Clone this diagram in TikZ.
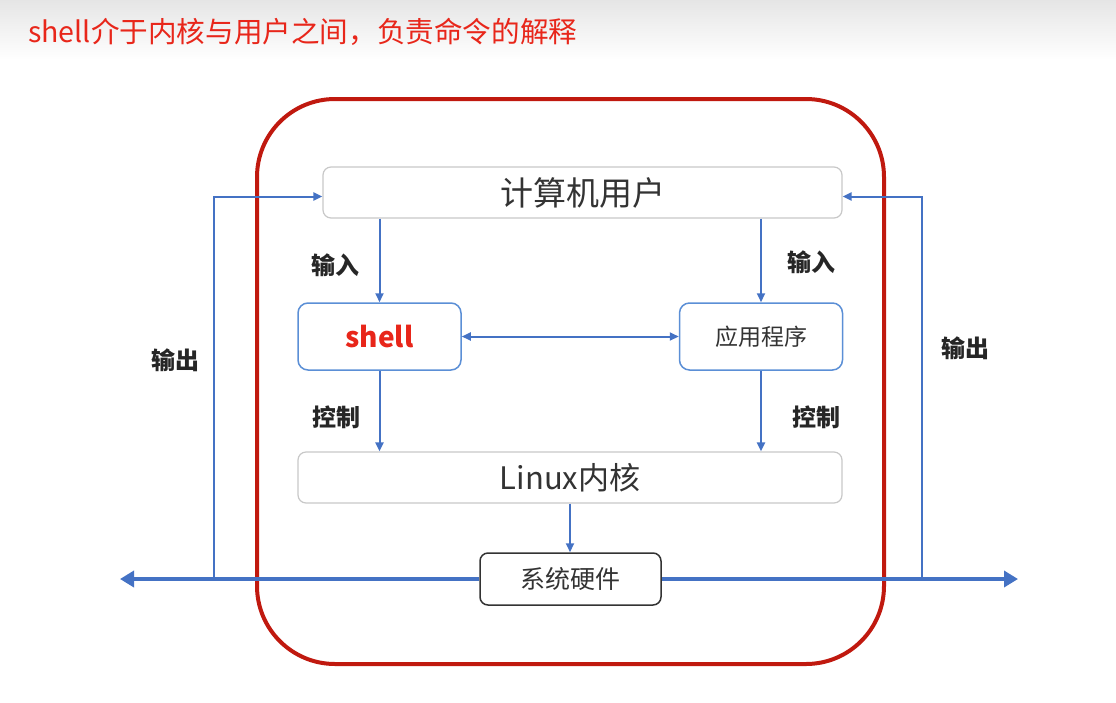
\documentclass[tikz,border=0pt]{standalone}
\usepackage{fontspec}
\newfontfamily\cjk{Noto Sans CJK SC}
\usetikzlibrary{arrows.meta}
\definecolor{lineblue}{HTML}{4472C4}
\definecolor{boxblue}{HTML}{5B8FD6}
\definecolor{framered}{HTML}{C0190F}
\definecolor{titlered}{HTML}{E8261A}
\definecolor{boxgray}{HTML}{C8C8C8}
\definecolor{textgray}{HTML}{333333}
\tikzstyle{every node}=[font=\cjk,text=textgray,inner sep=0pt]
\tikzstyle{widebox}=[draw=boxgray,line width=1.2pt,rounded corners=8pt,fill=white]
\tikzstyle{smallbox}=[draw=boxblue,line width=1.5pt,rounded corners=10pt,fill=white,minimum width=163pt,minimum height=67pt]
\tikzstyle{hwbox}=[draw=textgray,line width=1.5pt,rounded corners=8pt,fill=white,minimum width=181pt,minimum height=52pt,font=\cjk\fontsize{25}{25}\selectfont]
\tikzstyle{flow}=[draw=lineblue,line width=2pt,-{Triangle[length=9pt,width=8pt]}]
\tikzstyle{bus}=[draw=lineblue,line width=4pt,-{Triangle[length=14pt,width=16pt]}]
\tikzstyle{label}=[font=\cjk\bfseries\fontsize{24}{24}\selectfont,text=black!85]

\begin{document}
\begin{tikzpicture}[x=1pt,y=-1pt]
    \useasboundingbox (0,0) rectangle (1116,702);
    \shade[top color=black!10,bottom color=white] (0,0) rectangle (1116,60);
    \node[font=\cjk\fontsize{28.6}{28.6}\selectfont,text=titlered,anchor=west] (title) at (28,32) {shell介于内核与用户之间，负责命令的解释};
    \draw[framered,line width=4pt,rounded corners=78pt] (257,99) rectangle (884,664);
    \node[widebox,minimum width=519pt,minimum height=51pt,font=\cjk\fontsize{33}{33}\selectfont] (user) at (582.5,192.5) {计算机用户};
    \node[smallbox,font=\cjk\bfseries\fontsize{28}{28}\selectfont,text=titlered] (shell) at (379.5,336.5) {shell};
    \node[smallbox,font=\cjk\fontsize{23}{23}\selectfont] (app) at (761,336.5) {应用程序};
    \node[widebox,minimum width=544pt,minimum height=51pt,font=\cjk\fontsize{31}{31}\selectfont] (linux) at (570,477.5) {Linux内核};
    \node[hwbox] (hw) at (570.5,579) {系统硬件};
    \coordinate (busl) at (120,579);
    \coordinate (busr) at (1018,579);
    \coordinate (outl) at (214,579);
    \coordinate (outr) at (922,579);
    \draw[bus] (hw.west) -- (busl);
    \draw[bus] (hw.east) -- (busr);
    \draw[flow] (outl) |- ([yshift=-4pt]user.west);
    \draw[flow] (outr) |- ([yshift=-4pt]user.east);
    \draw[flow] (shell.north |- user.south) -- (shell.north);
    \draw[flow] (app.north |- user.south) -- (app.north);
    \draw[flow,{Triangle[length=9pt,width=8pt]}-{Triangle[length=9pt,width=8pt]}] (shell.east) -- (app.west);
    \draw[flow] (shell.south) -- (shell.south |- linux.north);
    \draw[flow] (app.south) -- (app.south |- linux.north);
    \draw[flow] (linux.south) -- (linux.south |- hw.north);
    \node[label] (inl) at (335,265) {输入};
    \node[label] (inr) at (811,262) {输入};
    \node[label] (ctll) at (336,417) {控制};
    \node[label] (ctlr) at (816,417) {控制};
    \node[label] (outlt) at (175,360) {输出};
    \node[label] (outrt) at (965,348) {输出};
\end{tikzpicture}
\end{document}
